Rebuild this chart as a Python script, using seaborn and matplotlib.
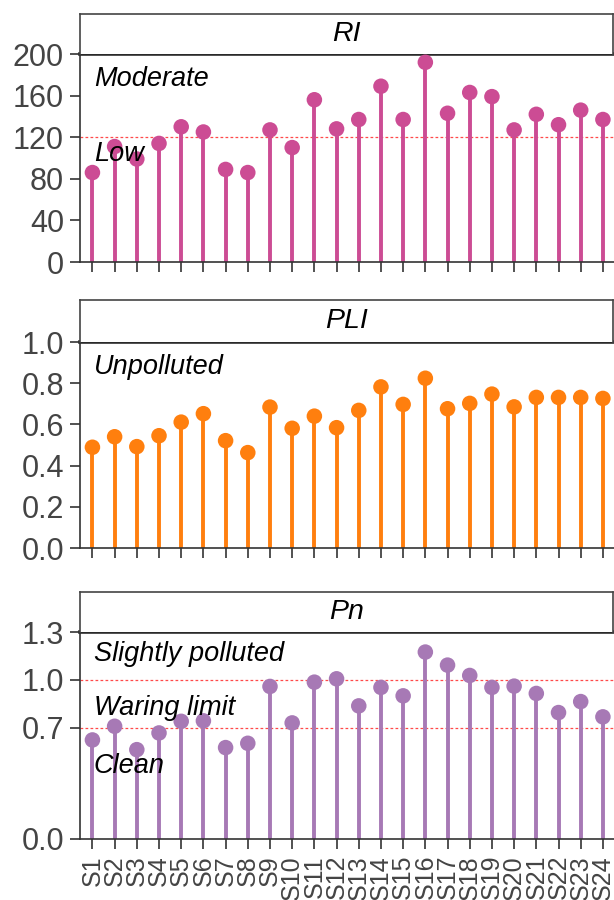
import numpy as np
import pandas as pd
import matplotlib
matplotlib.use("Agg")
import matplotlib.pyplot as plt
import seaborn as sns

sites = [f"S{i}" for i in range(1, 25)]
ri = [86, 111, 99, 114, 130, 125, 89, 86, 127, 110, 156, 128, 137, 169, 137, 192,
      143, 163, 159, 127, 142, 132, 146, 137]
pli = [0.489, 0.540, 0.492, 0.545, 0.611, 0.652, 0.521, 0.463, 0.684, 0.581, 0.640,
       0.584, 0.668, 0.782, 0.697, 0.824, 0.676, 0.702, 0.747, 0.685, 0.731, 0.731,
       0.731, 0.726]
pn = [0.622, 0.708, 0.561, 0.666, 0.739, 0.742, 0.574, 0.601, 0.958, 0.729, 0.985,
      1.006, 0.836, 0.952, 0.899, 1.174, 1.092, 1.027, 0.952, 0.960, 0.914, 0.794,
      0.863, 0.767]

titles = ["RI", "PLI", "Pn"]
colors = ["#CC4C94", "#FF7F0E", "#A779B5"]
ylims = [(0, 200), (0, 1.0), (0, 1.3)]
yticks = [[0, 40, 80, 120, 160, 200], [0.0, 0.2, 0.4, 0.6, 0.8, 1.0], [0.0, 0.7, 1.0, 1.3]]
ytick_labels = [["0", "40", "80", "120", "160", "200"],
                ["0.0", "0.2", "0.4", "0.6", "0.8", "1.0"],
                ["0.0", "0.7", "1.0", "1.3"]]
ref_lines = [[120], [], [0.7, 1.0]]
annotations = [[("Moderate", 176), ("Low", 104)],
               [("Unpolluted", 0.879)],
               [("Slightly polluted", 1.16), ("Waring limit", 0.82), ("Clean", 0.46)]]

sns.set_style("ticks")
plt.rcParams["font.family"] = ["Liberation Sans", "DejaVu Sans"]

W, H = 614, 900
fig = plt.figure(figsize=(W / 100, H / 100), dpi=100)

# (axes top px, axes bottom px, strip top px)
layout = [(54, 262, 14), (342, 548, 300), (632, 839, 592)]
left_px, right_px = 80, 614

x = np.arange(len(sites))
series = [ri, pli, pn]

for i, (top, bot, stop) in enumerate(layout):
    ax = fig.add_axes([left_px / W, 1 - bot / H, (right_px - left_px) / W, (bot - top) / H])
    vals = series[i]
    df = pd.DataFrame({"x": x, "v": vals})
    ax.vlines(df["x"], 0, df["v"], color=colors[i], lw=2.8, zorder=2)
    sns.scatterplot(data=df, x="x", y="v", color=colors[i], s=125, edgecolor="none",
                    ax=ax, zorder=3, legend=False)
    for r in ref_lines[i]:
        ax.axhline(r, color="#FF4A4A", lw=0.9, ls=(0, (2.2, 1.8)), zorder=1)
    ax.set_xlim(-0.56, 23.5)
    ax.set_ylim(*ylims[i])
    ax.set_yticks(yticks[i])
    ax.set_yticklabels(ytick_labels[i])
    ax.set_xticks(x)
    if i == 2:
        ax.set_xticklabels(sites, rotation=90)
    else:
        ax.set_xticklabels([])
    ax.set_xlabel("")
    ax.set_ylabel("")
    ax.tick_params(axis="y", labelsize=22, labelcolor="#444444", length=7.5, width=1.2,
                   color="#333333", pad=4)
    ax.tick_params(axis="x", labelsize=18, labelcolor="#444444", length=7.5, width=1.2,
                   color="#333333", pad=4)
    ax.spines["right"].set_visible(False)
    ax.spines["top"].set_linewidth(2.6)
    ax.spines["top"].set_color("#2a2a2a")
    ax.spines["left"].set_color("#333333")
    ax.spines["bottom"].set_color("#333333")
    ax.spines["left"].set_linewidth(1.2)
    ax.spines["bottom"].set_linewidth(1.2)
    for txt, yv in annotations[i]:
        ax.text(0.026, yv, txt, transform=ax.get_yaxis_transform(), fontsize=19.5,
                style="italic", va="center", ha="left", color="black", zorder=4)

    sax = fig.add_axes([left_px / W, 1 - top / H, (right_px - left_px - 1) / W, (top - stop) / H])
    sax.set_xticks([])
    sax.set_yticks([])
    for sp in sax.spines.values():
        sp.set_linewidth(1.2)
        sp.set_color("#444444")
    sax.spines["bottom"].set_visible(False)
    sax.text(0.5, 0.5, titles[i], transform=sax.transAxes, ha="center", va="center",
             fontsize=20.5, style="italic", color="black")

fig.savefig("out.png", dpi=100)
